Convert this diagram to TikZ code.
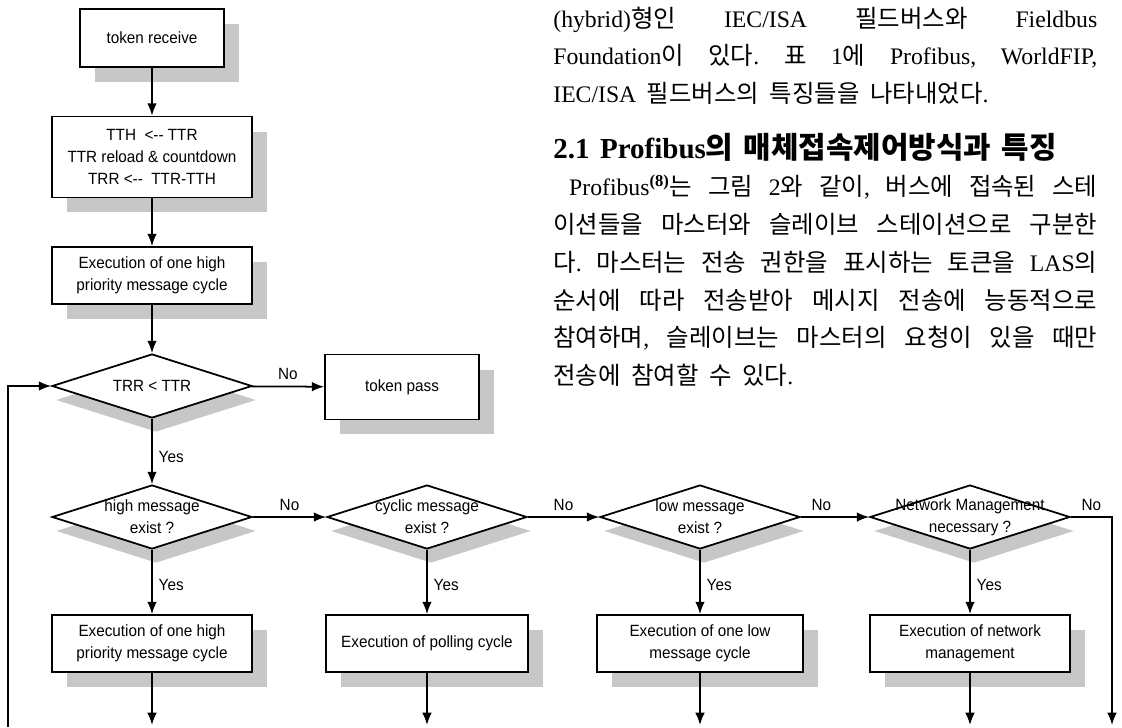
\documentclass[tikz,border=0pt]{standalone}
\usepackage{fontspec}
\usetikzlibrary{shapes.geometric,shadows,arrows.meta}
\setmainfont{Liberation Serif}
\newfontfamily\chartfont[FakeStretch=0.94]{Liberation Sans}
\newfontfamily\krfont[Scale=1.03]{Noto Sans CJK KR}

% Hangul syllables switch to the Korean font by themselves
\makeatletter
\newXeTeXintercharclass\krclass
\count255="AC00
\loop\XeTeXcharclass\count255=\krclass
\ifnum\count255<"D7A3 \advance\count255 by 1 \repeat
\XeTeXinterchartoks 0 \krclass = {\krfont}
\XeTeXinterchartoks \e@alloc@intercharclass@top \krclass = {\krfont}
\XeTeXinterchartoks \krclass 0 = {\rmfamily}
\XeTeXinterchartoks \krclass \e@alloc@intercharclass@top = {\rmfamily}
\makeatother

\newcommand\chartsize{\chartfont\fontsize{9.25}{12.5}\selectfont}
\newcommand\parasize{\rmfamily\fontsize{13.5}{21.5}\selectfont\frenchspacing
  \spaceskip=6pt plus 12pt minus 2.5pt\relax\XeTeXinterchartokenstate=1 }
\newcommand\headsize{\bfseries\fontsize{16.5}{18}\selectfont}

\begin{document}
\begin{tikzpicture}[x=0.02cm, y=-0.02cm,
    box/.style={draw, line width=1pt, fill=white, font=\chartsize, align=center, inner sep=2pt,
      drop shadow={shadow xshift=0.3cm, shadow yshift=-0.3cm, fill=black!22, opacity=1}},
    decision/.style={diamond, draw, line width=1pt, fill=white, minimum width=4cm,
      minimum height=1.28cm, inner sep=0pt,
      drop shadow={shadow xshift=0.08cm, shadow yshift=-0.28cm, fill=black!22, opacity=1}},
    flow/.style={->, >={Latex[length=7pt,width=5.5pt]}, line width=1pt},
    lbl/.style={font=\chartsize},
    para/.style={anchor=base west, inner sep=0pt, text width=10.88cm, align=justify, font=\parasize}
  ]
    \useasboundingbox (0,0) rectangle (1122,727);

    % main chain
    \node[box, minimum width=2.88cm, minimum height=1.16cm] (recv) at (152,38) {token receive};
    \node[box, minimum width=4cm, minimum height=1.62cm] (ttr) at (152,157)
      {TTH \ <-{}- TTR\\TTR reload \& countdown\\TRR <-{}- \ TTR-TTH};
    \node[box, minimum width=4cm, minimum height=1.14cm] (hiexec) at (152,275.5)
      {Execution of one high\\priority message cycle};
    \node[decision, label={[lbl]center:TRR < TTR}] (trr) at (152,386) {};
    \node[box, minimum width=3.08cm, minimum height=1.3cm] (pass) at (402,387) {token pass};

    % message decisions
    \node[decision, label={[lbl, align=center]center:high message\\exist ?}] (d1) at (152,517) {};
    \node[decision, label={[lbl, align=center]center:cyclic message\\exist ?}] (d2) at (427,517) {};
    \node[decision, label={[lbl, align=center]center:low message\\exist ?}] (d3) at (700,517) {};
    \node[decision, label={[lbl, align=center]center:Network Management\\necessary ?}] (d4) at (970,517) {};

    \node[box, minimum width=4cm, minimum height=1.14cm] (e1) at (152,643.5)
      {Execution of one high\\priority message cycle};
    \node[box, minimum width=4.04cm, minimum height=1.14cm] (e2) at (427,643.5)
      {Execution of polling cycle};
    \node[box, minimum width=4.12cm, minimum height=1.14cm] (e3) at (700,643.5)
      {Execution of one low\\message cycle};
    \node[box, minimum width=4cm, minimum height=1.14cm] (e4) at (970,643.5)
      {Execution of network\\management};

    \coordinate (loopend) at (8,727);
    \coordinate (rightend) at (1112,725);
    \coordinate (bottom) at (0,725);

    \draw[flow] (recv) -- (ttr);
    \draw[flow] (ttr) -- (hiexec);
    \draw[flow] (hiexec) -- (trr);
    \draw[flow] (trr) -- node[midway, above, lbl]{No} (pass);
    \draw[flow] (trr) -- node[pos=0.58, right, lbl]{Yes} (d1);
    \draw[flow] (loopend) |- (trr.west);

    \draw[flow] (d1) -- node[midway, above, lbl]{No} (d2);
    \draw[flow] (d2) -- node[midway, above, lbl]{No} (d3);
    \draw[flow] (d3) -- node[pos=0.3, above, lbl]{No} (d4);
    \draw[flow] (d4.east) -| node[pos=0.25, above, lbl]{No} (rightend);

    \foreach \n in {1,2,3,4}{
      \draw[flow] (d\n) -- node[pos=0.55, right, lbl]{Yes} (e\n);
      \draw[flow] (e\n.south) -- (e\n.south |- bottom);
    }

    % text beside the chart
    \node[para] (intro) at (553,27) {(hybrid)형인 IEC/ISA 필드버스와 Fieldbus\linebreak
      Foundation이 있다. 표 1에 Profibus, WorldFIP,\linebreak
      IEC/ISA 필드버스의 특징들을 나타내었다.};

    \node[para] (sect) at (553,158) {{\headsize 2.1 Profibus의 매체접속제어방식과 특징}\par
      \hspace*{9pt}Profibus\textsuperscript{\bfseries(8)}는 그림 2와 같이, 버스에 접속된 스테\linebreak
      이션들을 마스터와 슬레이브 스테이션으로 구분한\linebreak
      다. 마스터는 전송 권한을 표시하는 토큰을 LAS의\linebreak
      순서에 따라 전송받아 메시지 전송에 능동적으로\linebreak
      참여하며, 슬레이브는 마스터의 요청이 있을 때만\linebreak
      전송에 참여할 수 있다.};

  \end{tikzpicture}
\end{document}
